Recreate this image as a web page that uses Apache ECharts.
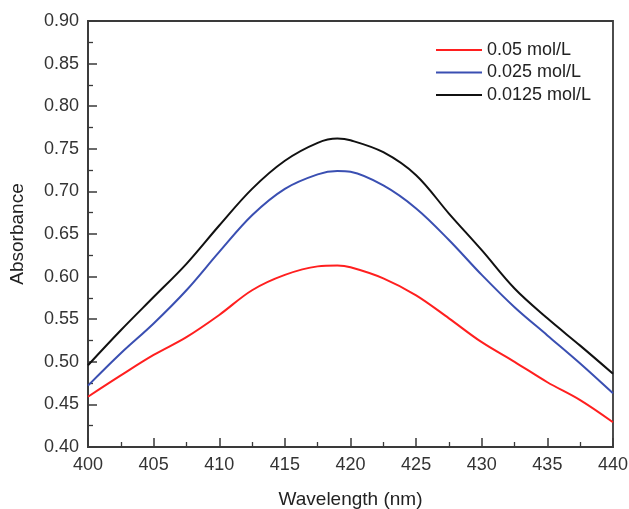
<!DOCTYPE html>
<html>
<head>
<meta charset="utf-8">
<script src="https://cdn.jsdelivr.net/npm/echarts@6/dist/echarts.min.js"></script>
<style>html,body{margin:0;padding:0;background:#fff}#c{width:629px;height:509px}</style>
</head>
<body>
<div id="c"></div>
<script>
const wavelength = [400, 402.5, 405, 407.5, 410, 412.5, 415, 417.5, 419, 420, 422.5, 425, 427.5, 430, 432.5, 435, 437.5, 440];
const red   = [0.459, 0.484, 0.508, 0.529, 0.555, 0.584, 0.602, 0.612, 0.613, 0.611, 0.598, 0.578, 0.551, 0.523, 0.500, 0.476, 0.455, 0.429];
const blue  = [0.472, 0.510, 0.545, 0.584, 0.629, 0.672, 0.703, 0.720, 0.724, 0.723, 0.707, 0.680, 0.643, 0.602, 0.564, 0.531, 0.498, 0.463];
const black = [0.496, 0.537, 0.576, 0.615, 0.660, 0.703, 0.736, 0.757, 0.762, 0.760, 0.746, 0.719, 0.674, 0.631, 0.586, 0.551, 0.519, 0.486];
const seriesNames = ['0.05 mol/L', '0.025 mol/L', '0.0125 mol/L'];
const colors = ['#ff1f1f', '#3a4fb2', '#111111'];
const xTicks = [400, 405, 410, 415, 420, 425, 430, 435, 440];
const yTicks = [0.40, 0.45, 0.50, 0.55, 0.60, 0.65, 0.70, 0.75, 0.80, 0.85, 0.90];

const pair = (ys) => wavelength.map((x, i) => [x, ys[i]]);
const font = 'Liberation Sans, Arial, sans-serif';
const chart = echarts.init(document.getElementById('c'));
const axisCommon = {
  axisLine: {show: true, onZero: false, lineStyle: {color: '#3a3a3a', width: 1.8}},
  axisTick: {show: true, inside: true, length: 9, lineStyle: {color: '#3a3a3a', width: 1.5}},
  minorTick: {show: true, splitNumber: 2, length: 5, lineStyle: {color: '#3a3a3a', width: 1.3}},
  splitLine: {show: false},
  axisLabel: {color: '#333', fontSize: 18, fontFamily: font},
  nameTextStyle: {color: '#222', fontSize: 19, fontFamily: font}
};
chart.setOption({
  animation: false,
  backgroundColor: '#fff',
  grid: {left: 88, right: 16, top: 21, bottom: 62, containLabel: false, outerBoundsMode: 'none',
         show: true, borderColor: '#3a3a3a', borderWidth: 1.8},
  legend: {
    orient: 'vertical', left: 435, top: 41, padding: 0, itemWidth: 46, itemHeight: 14, itemGap: 4.5,
    itemStyle: {opacity: 0},
    textStyle: {color: '#222', fontSize: 18, fontFamily: font},
    data: seriesNames
  },
  xAxis: Object.assign({}, axisCommon, {
    type: 'value', min: 400, max: 440, interval: 5,
    name: 'Wavelength (nm)', nameLocation: 'middle', nameGap: 43,
    axisLabel: Object.assign({}, axisCommon.axisLabel, {margin: 9, formatter: v => xTicks.includes(v) ? String(v) : ''})
  }),
  yAxis: Object.assign({}, axisCommon, {
    type: 'value', min: 0.40, max: 0.90, interval: 0.05,
    name: 'Absorbance', nameLocation: 'middle', nameGap: 61,
    axisLabel: Object.assign({}, axisCommon.axisLabel, {margin: 9, formatter: v => {
      const t = yTicks.find(t => Math.abs(t - v) < 1e-6); return t === undefined ? '' : t.toFixed(2);
    }})
  }),
  series: [red, blue, black].map((d, i) => ({
    name: seriesNames[i], type: 'line', data: pair(d), smooth: 0.35, symbol: 'none',
    lineStyle: {color: colors[i], width: 2}, itemStyle: {color: colors[i]}
  }))
});
</script>
</body>
</html>
